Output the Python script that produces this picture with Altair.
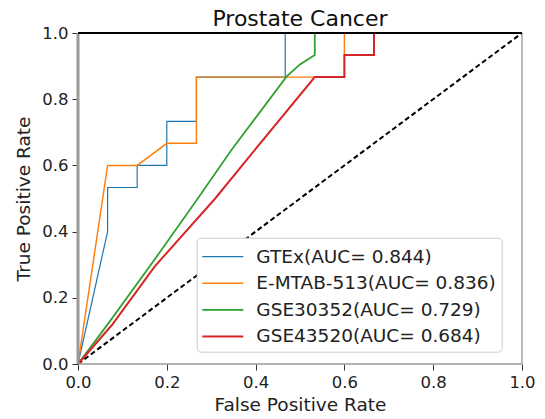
import altair as alt
import pandas as pd

# ROC curves per dataset (false positive rate, true positive rate)
names = ["GTEx", "E-MTAB-513", "GSE30352", "GSE43520"]
aucs = [0.844, 0.836, 0.729, 0.684]
colors = ["#1f77b4", "#ff7f0e", "#2ca02c", "#d62728"]
widths = [1.2, 2.0, 1.8, 1.8]

gtex_fpr = [0.0, 0.0667, 0.0667, 0.1333, 0.1333, 0.2, 0.2, 0.2667, 0.2667, 0.4667, 0.4667, 1.0]
gtex_tpr = [0.0, 0.4, 0.5333, 0.5333, 0.6, 0.6, 0.7333, 0.7333, 0.8667, 0.8667, 1.0, 1.0]

emtab_fpr = [0.0, 0.0667, 0.1333, 0.2, 0.2667, 0.2667, 0.6, 0.6, 1.0]
emtab_tpr = [0.0, 0.6, 0.6, 0.6667, 0.6667, 0.8667, 0.8667, 1.0, 1.0]

gse30352_fpr = [0.0, 0.068, 0.177, 0.267, 0.346, 0.47, 0.5, 0.5333, 0.5333, 1.0]
gse30352_tpr = [0.0, 0.122, 0.324, 0.495, 0.647, 0.869, 0.905, 0.9333, 1.0, 1.0]

gse43520_fpr = [0.0, 0.076, 0.173, 0.309, 0.391, 0.5333, 0.6, 0.6, 0.6667, 0.6667, 1.0]
gse43520_tpr = [0.0, 0.117, 0.295, 0.5, 0.635, 0.8667, 0.8667, 0.9333, 0.9333, 1.0, 1.0]

chance_fpr = [0.0, 1.0]
chance_tpr = [0.0, 1.0]

curves = [
    (gtex_fpr, gtex_tpr),
    (emtab_fpr, emtab_tpr),
    (gse30352_fpr, gse30352_tpr),
    (gse43520_fpr, gse43520_tpr),
]
labels = [f"{n}(AUC= {a:.3f})" for n, a in zip(names, aucs)]

rows = []
for label, (fpr, tpr) in zip(labels, curves):
    for i, (fx, ty) in enumerate(zip(fpr, tpr)):
        rows.append({"label": label, "step": i, "fpr": fx, "tpr": ty})
roc = pd.DataFrame(rows)
chance = pd.DataFrame({"fpr": chance_fpr, "tpr": chance_tpr})

W, H = 444, 331
ticks = [0.0, 0.2, 0.4, 0.6, 0.8, 1.0]

def make_axis(title_pad):
    return alt.Axis(values=ticks, format=".1f", grid=False, domain=False,
                    tickColor="#333333", tickSize=6, labelPadding=4,
                    labelFontSize=16.5, labelColor="#222222", labelFlush=False,
                    titleFontSize=18.5, titleFontWeight="normal",
                    titleColor="#222222", titlePadding=title_pad)

x_scale = alt.Scale(domain=[0, 1], nice=False, zero=False)
y_scale = alt.Scale(domain=[0, 1], nice=False, zero=False)

# wide horizontal line glyph for the legend swatches
legend = alt.Legend(title=None, orient="none", legendX=118.7, legendY=204.7,
                    fillColor="white", strokeColor="#cccccc", cornerRadius=4,
                    padding=5.4, rowPadding=3.6, symbolType="M-1.64,0H1.64",
                    symbolSize=625, symbolOffset=7.2, labelOffset=20.0,
                    labelFontSize=18.5, labelColor="#222222", labelLimit=400)

lines = alt.Chart(roc).mark_line(interpolate="linear").encode(
    x=alt.X("fpr:Q", scale=x_scale, axis=make_axis(5), title="False Positive Rate"),
    y=alt.Y("tpr:Q", scale=y_scale, axis=make_axis(8), title="True Positive Rate"),
    color=alt.Color("label:N", scale=alt.Scale(domain=labels, range=colors), legend=legend),
    strokeWidth=alt.StrokeWidth("label:N", scale=alt.Scale(domain=labels, range=widths), legend=legend),
    order="step:Q",
)

diag = alt.Chart(chance).mark_line(color="black", strokeWidth=2, strokeDash=[5, 3]).encode(
    x="fpr:Q", y="tpr:Q"
)

one = pd.DataFrame({"k": [0]})
left = alt.Chart(one).mark_rule(color="#999999", strokeWidth=3).encode(
    x=alt.value(0), y=alt.value(0), y2=alt.value(H))
bottom = alt.Chart(one).mark_rule(color="#999999", strokeWidth=1.3).encode(
    x=alt.value(0), x2=alt.value(W), y=alt.value(H))
right = alt.Chart(one).mark_rule(color="#999999", strokeWidth=1.3).encode(
    x=alt.value(W), y=alt.value(0), y2=alt.value(H))
top = alt.Chart(one).mark_rule(color="black", strokeWidth=2.2).encode(
    x=alt.value(0), x2=alt.value(W), y=alt.value(0))

chart = alt.layer(diag, lines, left, bottom, right, top).properties(
    width=W, height=H,
    title=alt.TitleParams("Prostate Cancer", fontSize=22, fontWeight="normal",
                          color="#111111", anchor="middle", frame="group",
                          offset=7, dy=13),
    padding={"left": 78, "top": 33, "right": 23, "bottom": 55},
    autosize=alt.AutoSizeParams(type="none"),
).configure(font="DejaVu Sans").configure_view(stroke=None)

chart.save("out.html", embed_options={"renderer": "svg", "actions": False})
